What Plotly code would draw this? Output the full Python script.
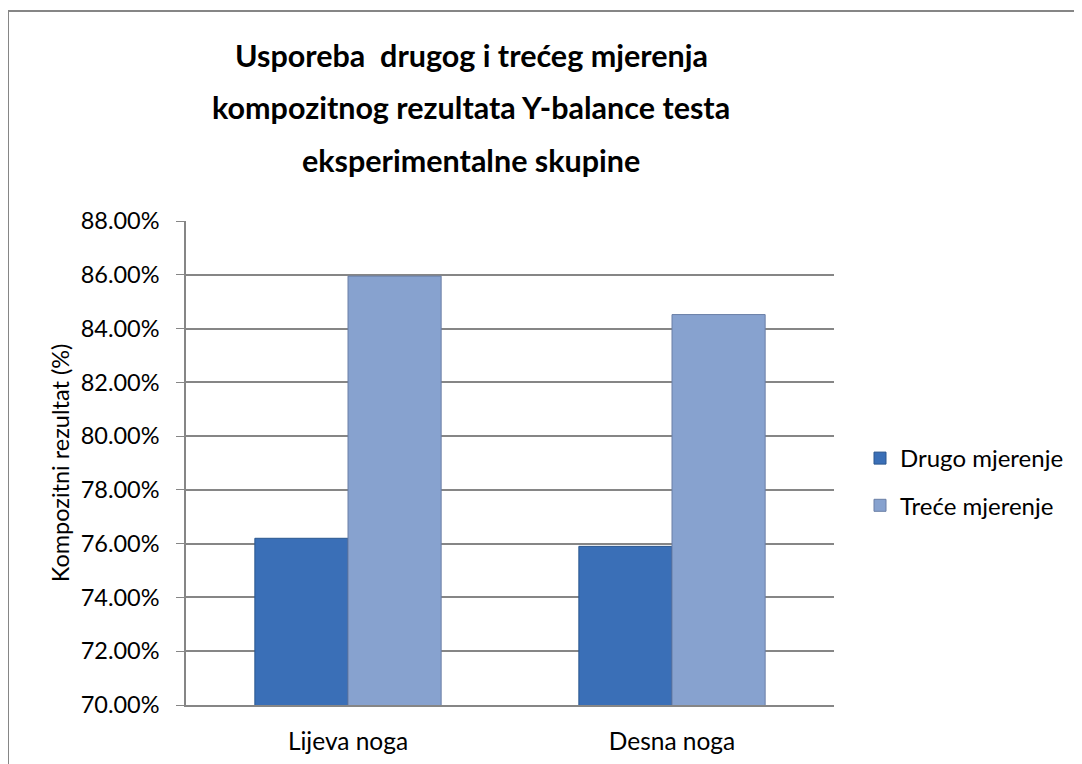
import plotly.graph_objects as go

# data
categories = ["Lijeva noga", "Desna noga"]
drugo = [0.7620, 0.7590]
trece = [0.8595, 0.8452]
tick_vals = [0.70, 0.72, 0.74, 0.76, 0.78, 0.80, 0.82, 0.84, 0.86, 0.88]
title_lines = ["Usporeba  drugog i trećeg mjerenja",
               "kompozitnog rezultata Y-balance testa",
               "eksperimentalne skupine"]

W, H = 1082, 764
OFF = 8  # page body margin shifts the figure
L, R, T, B = 186 - OFF, 248 + OFF, 221 - OFF, 59 + OFF
pw, ph = W - L - R, H - T - B

font = "Lato, 'Open Sans', sans-serif"
grid = "#868686"

def px_x(x):
    return (x - OFF - L) / pw

def px_y(y):
    return (H - B - (y - OFF)) / ph

fig = go.Figure()
fig.add_trace(go.Bar(x=categories, y=drugo, name="Drugo mjerenje",
                     marker=dict(color="#3A6FB7", line=dict(color="#2B578F", width=1)),
                     legendgroup="a"))
fig.add_trace(go.Bar(x=categories, y=trece, name="Treće mjerenje",
                     marker=dict(color="#87A2CF", line=dict(color="#6A7FA6", width=1)),
                     legendgroup="b"))

# outer chart border (partly cut off like the reference)
fig.add_shape(type="rect", xref="paper", yref="paper",
              x0=px_x(8), x1=px_x(W + 20), y0=px_y(H + 20), y1=px_y(11),
              line=dict(color="#868686", width=2), layer="below")

# title, one line per annotation to keep the wide line spacing
for i, line in enumerate(title_lines):
    fig.add_annotation(text=f"<b>{line}</b>", xref="paper", yref="paper",
                       x=px_x(471), y=px_y(55 + 52.5 * i), xanchor="center", yanchor="middle",
                       showarrow=False, font=dict(family=font, size=30.5, color="black"))

fig.update_layout(
    width=W, height=H,
    margin=dict(l=L, r=R, t=T, b=B, autoexpand=False),
    paper_bgcolor="white", plot_bgcolor="white",
    font=dict(family=font, size=24, color="black"),
    barmode="group", bargap=0.425, bargroupgap=0,
    legend=dict(x=px_x(860), y=px_y(482), xanchor="left", yanchor="middle",
                font=dict(size=24), tracegroupgap=13, itemwidth=30),
    showlegend=True,
)
fig.update_yaxes(range=[0.70, 0.88], tickvals=tick_vals, tickformat=".2%",
                 showgrid=True, gridcolor=grid, gridwidth=1.5,
                 showline=True, linecolor=grid, linewidth=1.5,
                 ticks="outside", ticklen=8, tickcolor=grid, ticklabelstandoff=12,
                 tickfont=dict(size=23.5),
                 title=dict(text="Kompozitni rezultat (%)", font=dict(size=23.5), standoff=4),
                 zeroline=False, automargin=False)
fig.update_xaxes(showline=True, linecolor=grid, linewidth=1.5,
                 ticks="", tickfont=dict(size=24.5), ticklabelstandoff=14, automargin=False)

fig.write_html("out.html")
